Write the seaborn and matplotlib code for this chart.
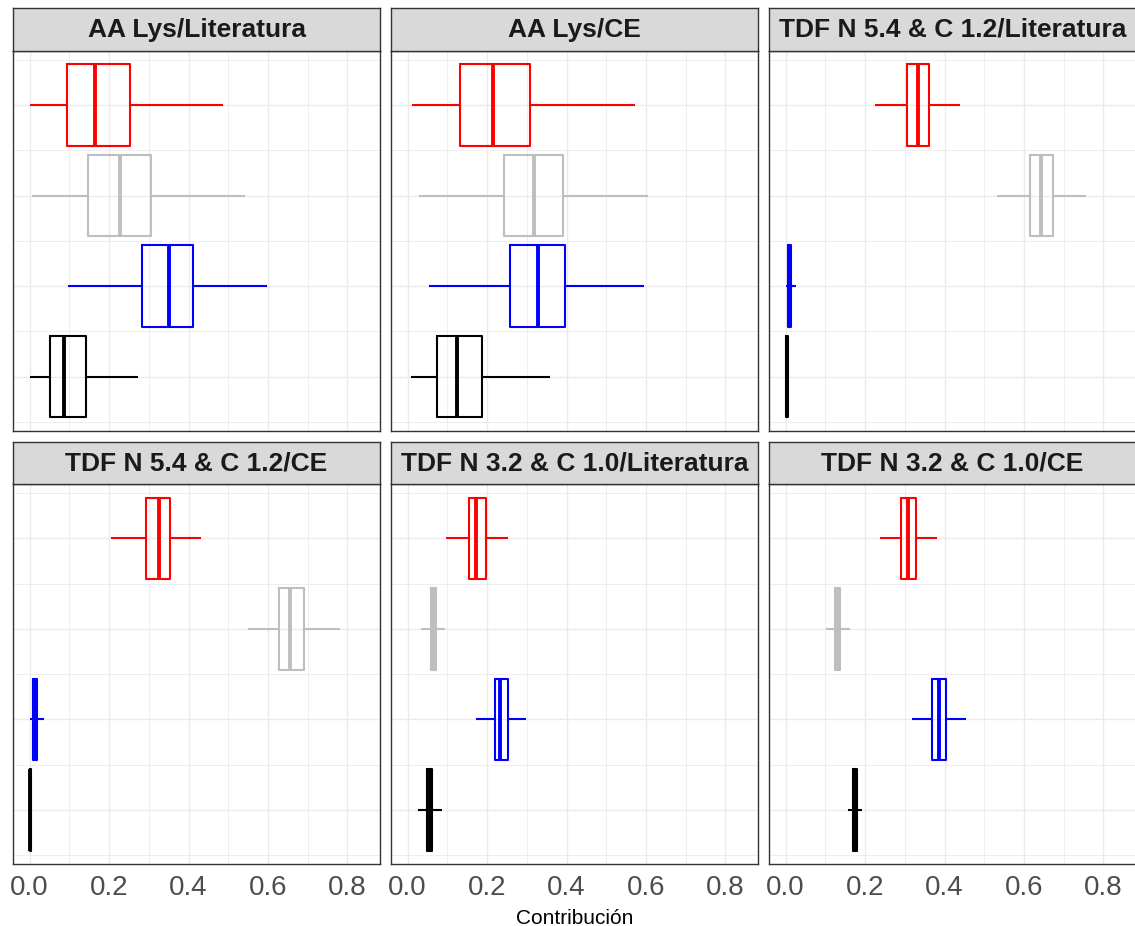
import numpy as np
import pandas as pd
import matplotlib
matplotlib.use("Agg")
import matplotlib.pyplot as plt
import seaborn as sns

# ---------------- data ----------------
panel_titles = ["AA Lys/Literatura", "AA Lys/CE", "TDF N 5.4 & C 1.2/Literatura",
                "TDF N 5.4 & C 1.2/CE", "TDF N 3.2 & C 1.0/Literatura", "TDF N 3.2 & C 1.0/CE"]
groups = ["G1", "G2", "G3", "G4"]
group_colors = ["#FF0000", "#BEBEBE", "#0000FF", "#000000"]
x_ticks = [0.0, 0.2, 0.4, 0.6, 0.8]
x_tick_labels = ["0.0", "0.2", "0.4", "0.6", "0.8"]
x_label = "Contribución"

# five-number summaries (min, q1, median, q3, max) for groups red, gray, blue, black
aa_lys_literatura = [[0.000, 0.094, 0.165, 0.253, 0.487],
                     [0.006, 0.146, 0.227, 0.306, 0.542],
                     [0.097, 0.284, 0.351, 0.411, 0.597],
                     [0.000, 0.050, 0.087, 0.141, 0.273]]
aa_lys_ce = [[0.012, 0.132, 0.216, 0.309, 0.572],
             [0.029, 0.243, 0.318, 0.390, 0.605],
             [0.054, 0.258, 0.328, 0.395, 0.594],
             [0.009, 0.073, 0.125, 0.188, 0.358]]
tdf54_literatura = [[0.226, 0.305, 0.333, 0.360, 0.439],
                    [0.532, 0.615, 0.644, 0.673, 0.757],
                    [0.000, 0.005, 0.010, 0.014, 0.027],
                    [0.000, 0.000, 0.003, 0.006, 0.007]]
tdf54_ce = [[0.204, 0.292, 0.325, 0.353, 0.432],
            [0.549, 0.628, 0.656, 0.691, 0.781],
            [0.002, 0.008, 0.013, 0.019, 0.036],
            [0.000, 0.000, 0.002, 0.004, 0.005]]
tdf32_literatura = [[0.096, 0.154, 0.173, 0.197, 0.253],
                    [0.034, 0.059, 0.065, 0.071, 0.095],
                    [0.172, 0.219, 0.232, 0.253, 0.298],
                    [0.025, 0.048, 0.055, 0.062, 0.087]]
tdf32_ce = [[0.238, 0.291, 0.308, 0.327, 0.380],
            [0.102, 0.124, 0.131, 0.138, 0.161],
            [0.319, 0.368, 0.386, 0.404, 0.453],
            [0.158, 0.170, 0.175, 0.180, 0.191]]

panel_data = [aa_lys_literatura, aa_lys_ce, tdf54_literatura,
              tdf54_ce, tdf32_literatura, tdf32_ce]

rows = []
for title, summ in zip(panel_titles, panel_data):
    for g, vals in zip(groups, summ):
        for v in vals:
            rows.append({"panel": title, "group": g, "value": v})
df = pd.DataFrame(rows)

# ---------------- style ----------------
sns.set_style("white")
plt.rcParams["font.family"] = ["Liberation Sans", "DejaVu Sans"]

W, H = 1135, 926
fig = plt.figure(figsize=(W / 100, H / 100), dpi=100)
fig.patch.set_facecolor("white")


def frac(left, top, right, bottom):
    return [left / W, 1 - bottom / H, (right - left) / W, (bottom - top) / H]


col_lefts = [13, 391, 769]
panel_w = 367
rows_px = [  # strip_top, panel_top, panel_bottom
    (8.3, 50.7, 431.0),
    (442.3, 484.0, 864.3),
]
border = "#333333"

for i, title in enumerate(panel_titles):
    r, c = divmod(i, 3)
    st, pt, pb = rows_px[r]
    left = col_lefts[c]
    ax = fig.add_axes(frac(left, pt, left + panel_w, pb))
    sub = df[df["panel"] == title]
    sns.boxplot(data=sub, x="value", y="group", hue="group", order=groups,
                hue_order=groups, palette=group_colors, saturation=1,
                fill=False, width=0.9, whis=(0, 100), showcaps=False,
                linewidth=1.5, medianprops=dict(linewidth=2.8),
                fliersize=0, legend=False, ax=ax)
    ax.set_xlim(-0.042, 0.882)
    ax.set_ylim(3.6, -0.6)
    ax.set_xticks(x_ticks)
    ax.set_xticks([0.1, 0.3, 0.5, 0.7], minor=True)
    ax.set_yticks([0, 1, 2, 3])
    ax.set_yticks([-0.5, 0.5, 1.5, 2.5, 3.5], minor=True)
    ax.set_yticklabels([])
    ax.grid(True, which="major", color="#EBEBEB", linewidth=1.0)
    ax.grid(True, which="minor", color="#EBEBEB", linewidth=0.6)
    ax.set_axisbelow(True)
    ax.set_xlabel("")
    ax.set_ylabel("")
    ax.tick_params(axis="y", which="both", length=0)
    ax.tick_params(axis="x", which="minor", length=0)
    if r == 1:
        ax.set_xticklabels(x_tick_labels)
        ax.tick_params(axis="x", which="major", length=3.5, width=0.8,
                       color=border, labelsize=20, labelcolor="#4D4D4D", pad=4.5)
    else:
        ax.set_xticklabels([])
        ax.tick_params(axis="x", which="major", length=0)
    for sp in ax.spines.values():
        sp.set_color(border)
        sp.set_linewidth(1.0)
        sp.set_visible(True)

    sax = fig.add_axes(frac(left, st, left + panel_w, pt))
    sax.set_facecolor("#D9D9D9")
    sax.set_xticks([])
    sax.set_yticks([])
    for sp in sax.spines.values():
        sp.set_color(border)
        sp.set_linewidth(1.0)
    sax.text(0.5, 0.5, title, ha="center", va="center", fontsize=19,
             fontweight="bold", color="#1A1A1A", transform=sax.transAxes)

fig.text(574.5 / W, 1 - 918 / H, x_label, ha="center", va="center",
         fontsize=15, color="black")

fig.savefig("out.png", dpi=100)
